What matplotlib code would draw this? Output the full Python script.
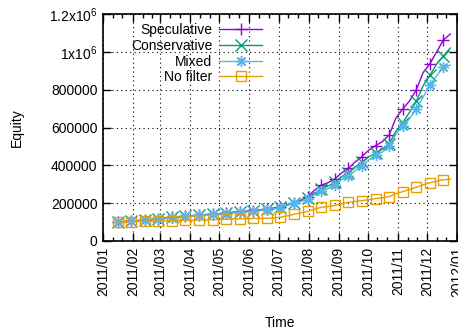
import numpy as np
import pandas as pd
import matplotlib
matplotlib.use("Agg")
import matplotlib.pyplot as plt
import matplotlib.dates as mdates
from matplotlib.ticker import FuncFormatter, MultipleLocator

plt.rcParams['font.family'] = ['Liberation Sans', 'DejaVu Sans']
plt.rcParams['font.size'] = 10
plt.rcParams['mathtext.fontset'] = 'custom'
plt.rcParams['mathtext.rm'] = 'Liberation Sans'

# weekly equity samples (thousands), a marker every second sample
dates = pd.date_range('2011-01-16', periods=50, freq='7D')

speculative = [100, 103, 106, 108, 111, 114, 117, 122, 125, 128,
               131, 134, 137, 140, 143, 145, 148, 152, 155, 158,
               161, 165, 169, 174, 180, 191, 200, 216, 234, 268,
               295, 308, 328, 360, 384, 418, 446, 480, 504, 525,
               560, 650, 698, 740, 798, 890, 936, 1000, 1063, 1094]
conservative = [100, 103, 106, 108, 111, 114, 117, 122, 125, 128,
                131, 134, 136, 139, 142, 144, 147, 150, 153, 156,
                160, 164, 168, 172, 178, 190, 202, 213, 226, 252,
                275, 290, 310, 340, 362, 392, 415, 445, 465, 485,
                515, 580, 625, 680, 738, 820, 876, 935, 978, 1020]
mixed = [100, 103, 106, 107, 110, 113, 116, 121, 124, 127,
         130, 133, 135, 138, 141, 143, 145, 149, 152, 155,
         158, 163, 166, 170, 176, 188, 199, 209, 221, 245,
         265, 277, 296, 325, 346, 371, 396, 428, 452, 470,
         500, 565, 608, 645, 698, 760, 825, 872, 921, 930]
no_filter = [100, 101, 103, 104, 104, 105, 106, 107, 108, 109,
             110, 110, 111, 112, 113, 114, 115, 116, 117, 118,
             119, 119, 120, 122, 126, 133, 141, 149, 156, 168,
             178, 182, 188, 197, 205, 209, 213, 219, 224, 229,
             234, 250, 261, 272, 284, 297, 308, 316, 324, 327]

series = [
    ("Speculative", speculative, '#9400d3', '+'),
    ("Conservative", conservative, '#009e73', 'x'),
    ("Mixed", mixed, '#56b4e9', (8, 2, 0)),
    ("No filter", no_filter, '#e69f00', 's'),
]


def ytick_fmt(v, pos):
    if v >= 1e6:
        m = v / 1e6
        s = ('%g' % m)
        return r'$\mathregular{%sx10^6}$' % s
    return '%d' % v


fig = plt.figure(figsize=(4.58, 3.32), dpi=100)
fig.subplots_adjust(left=103/458, right=457/458, top=1-14/332, bottom=1-241/332)
ax = fig.add_subplot(111)

for name, vals, col, mk in series:
    y = np.array(vals) * 1000
    ax.plot(dates, y, color=col, lw=1.0, marker=mk, markevery=2,
            ms=8 if mk != 's' else 7.2, mew=1.0,
            mfc='none' if mk == 's' else col, label=name)

ax.set_xlim(pd.Timestamp('2011-01-01'), pd.Timestamp('2012-01-01'))
ax.set_ylim(0, 1.2e6)
ax.xaxis.set_major_locator(mdates.MonthLocator())
ax.xaxis.set_minor_locator(mdates.DayLocator(bymonthday=[11, 21]))
ax.xaxis.set_major_formatter(mdates.DateFormatter('%Y/%m'))
ax.yaxis.set_major_locator(MultipleLocator(200000))
ax.yaxis.set_major_formatter(FuncFormatter(ytick_fmt))
plt.setp(ax.get_xticklabels(), rotation=90)

ax.tick_params(which='both', direction='in', top=True, right=True, width=1.0)
ax.tick_params(which='major', length=6, pad=4)
ax.tick_params(which='minor', length=3)
ax.grid(True, which='major', color='black', lw=0.8, linestyle=(0, (1, 3)))
for sp in ax.spines.values():
    sp.set_linewidth(1.2)

ax.set_xlabel('Time', labelpad=14)
ax.set_ylabel('Equity', labelpad=18)

ax.legend(loc='upper right', bbox_to_anchor=(0.47, 0.99), frameon=False,
          markerfirst=False, handlelength=3.1, handletextpad=0.5,
          labelspacing=0.12, borderpad=0.2, borderaxespad=0.3)

fig.savefig('out.png', dpi=100)
